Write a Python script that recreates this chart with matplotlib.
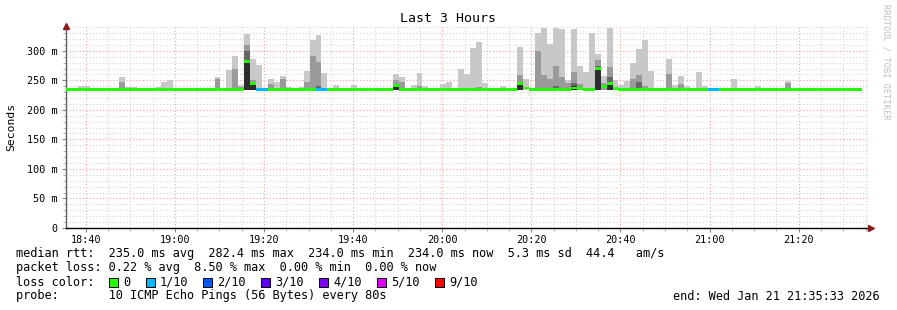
import matplotlib
matplotlib.use("Agg")
import matplotlib.pyplot as plt
from matplotlib.ticker import MultipleLocator, FixedLocator
from matplotlib.patches import Rectangle
import numpy as np

# ---------------- data ----------------
STEP = 80                 # seconds per bin
SPAN = 10800              # 3 hours
N_BINS = 134
BASE = 234.0              # ms, baseline median

# sparse smoke data: bin index -> layer tops (ms)
smoke_bins = [2, 3, 9, 10, 11, 15, 16, 17, 18, 25, 26, 27, 28, 29, 30, 31, 32, 34, 35, 36,
              37, 39, 40, 41, 42, 43, 45, 47, 48, 55, 56, 57, 58, 59, 60, 63, 64, 66, 67, 68,
              69, 70, 73, 76, 77, 79, 80, 81, 82, 83, 84, 85, 86, 87, 88, 89, 90, 91, 92, 93,
              94, 95, 96, 97, 98, 101, 102, 103, 104, 106, 107, 112, 113, 116, 121, 133]
smoke_l1 = [241, 240, 256, 239, 239, 239, 247, 250, 237, 256, 237, 268, 291, 242, 329, 286, 276, 252, 247, 258,
            239, 239, 266, 319, 327, 262, 242, 237, 242, 261, 256, 237, 242, 262, 240, 244, 247, 269, 261, 305,
            315, 246, 240, 307, 252, 330, 339, 312, 339, 337, 251, 337, 274, 264, 330, 295, 258, 339, 251, 242,
            249, 280, 303, 319, 266, 286, 242, 258, 240, 264, 240, 252, 237, 240, 249, 237]
smoke_l2 = [234, 234, 247, 234, 234, 234, 234, 234, 234, 252, 234, 234, 269, 238, 310, 250, 234, 243, 234, 252,
            237, 234, 247, 291, 281, 234, 234, 234, 234, 250, 247, 234, 234, 240, 234, 234, 234, 234, 234, 234,
            239, 234, 234, 259, 234, 300, 259, 252, 274, 255, 245, 264, 244, 234, 234, 285, 245, 273, 234, 234,
            234, 252, 259, 240, 234, 261, 234, 244, 234, 234, 234, 234, 234, 234, 246, 234]
smoke_l3 = [234, 234, 234, 234, 234, 234, 234, 234, 234, 234, 234, 234, 234, 234, 300, 247, 234, 234, 234, 234,
            234, 234, 234, 234, 240, 234, 234, 234, 234, 234, 234, 234, 234, 234, 234, 234, 234, 234, 234, 234,
            234, 234, 234, 234, 234, 234, 234, 234, 240, 234, 234, 245, 234, 234, 234, 275, 234, 255, 234, 234,
            234, 234, 247, 234, 234, 234, 234, 234, 234, 234, 234, 234, 234, 234, 234, 234]
smoke_l4 = [234, 234, 234, 234, 234, 234, 234, 234, 234, 234, 234, 234, 234, 234, 282, 244, 234, 234, 234, 234,
            234, 234, 234, 234, 234, 234, 234, 234, 234, 242, 234, 234, 234, 234, 234, 234, 234, 234, 234, 234,
            234, 234, 234, 246, 234, 234, 234, 234, 234, 234, 234, 240, 234, 234, 234, 271, 234, 246, 234, 234,
            234, 234, 234, 234, 234, 234, 234, 234, 234, 234, 234, 234, 234, 234, 234, 234]

median_bins = [30, 31, 55, 76, 77, 85, 86, 89, 90, 91, 92]
median_vals = [282.4, 244, 241, 244, 237, 237, 236, 270, 240, 244, 236]

loss_bins = [32, 33, 42, 43, 108, 109]
loss_vals = [1, 1, 1, 1, 1, 1]

loss_levels = ["0", "1/10", "2/10", "3/10", "4/10", "5/10", "9/10"]
loss_colors = ["#26ff00", "#00b8ff", "#0059ff", "#5e00ff", "#7e00ff", "#dd00ff", "#ff0000"]

x_tick_labels = ["18:40", "19:00", "19:20", "19:40", "20:00", "20:20", "20:40", "21:00", "21:20"]
first_tick_offset = 267   # seconds from 18:35:33 to 18:40:00
y_tick_values = [0, 50, 100, 150, 200, 250, 300]
y_tick_labels = ["0", "50 m", "100 m", "150 m", "200 m", "250 m", "300 m"]

legend_lines = [
    "median rtt:  235.0 ms avg  282.4 ms max  234.0 ms min  234.0 ms now  5.3 ms sd  44.4   am/s",
    "packet loss: 0.22 % avg  8.50 % max  0.00 % min  0.00 % now",
    "loss color:",
    "probe:       10 ICMP Echo Pings (56 Bytes) every 80s",
]
end_text = "end: Wed Jan 21 21:35:33 2026"

# ---------------- build full arrays ----------------
l1 = np.full(N_BINS, BASE); l2 = np.full(N_BINS, BASE)
l3 = np.full(N_BINS, BASE); l4 = np.full(N_BINS, BASE)
for i, b in enumerate(smoke_bins):
    l1[b] = smoke_l1[i]; l2[b] = smoke_l2[i]; l3[b] = smoke_l3[i]; l4[b] = smoke_l4[i]
median = np.full(N_BINS, BASE)
for b, v in zip(median_bins, median_vals):
    median[b] = v
loss = np.zeros(N_BINS, dtype=int)
for b, v in zip(loss_bins, loss_vals):
    loss[b] = v
centers = np.arange(N_BINS) * STEP + STEP / 2

# ---------------- figure ----------------
W, H = 897, 310
fig = plt.figure(figsize=(W / 100, H / 100), dpi=100)
fig.patch.set_facecolor("white")
L, R, T, B = 66, 868, 26, 228
ax = fig.add_axes([L / W, 1 - B / H, (R - L) / W, (B - T) / H])
ax.set_xlim(0, SPAN)
ax.set_ylim(0, 342)

mono = "DejaVu Sans Mono"

# grid
ax.set_axisbelow(True)
ax.yaxis.set_major_locator(FixedLocator(y_tick_values))
ax.yaxis.set_minor_locator(MultipleLocator(10))
major_x = [first_tick_offset + 1200 * k for k in range(len(x_tick_labels))]
ax.set_xticks(major_x, x_tick_labels)
ax.set_yticks(y_tick_values, y_tick_labels)
ax.xaxis.set_minor_locator(FixedLocator([first_tick_offset - 300 + 300 * k for k in range(37)
                                         if 0 < first_tick_offset - 300 + 300 * k < SPAN]))
ax.grid(which="minor", color="#d4d4d4", linestyle=(0, (1, 2)), linewidth=0.8)
ax.grid(which="major", color="#f2a0a0", linestyle=(0, (1, 2)), linewidth=0.8)

# smoke layers
for tops, col in [(l1, "#c8c8c8"), (l2, "#9a9a9a"), (l3, "#666666"), (l4, "#2c2c2c")]:
    h = tops - BASE
    ax.bar(centers, h, bottom=BASE, width=STEP, color=col, linewidth=0, zorder=2)

# median line coloured by loss
med_cols = [loss_colors[v] for v in loss]
ax.bar(centers, np.full(N_BINS, 4.6), bottom=median - 2.2, width=STEP, color=med_cols,
       linewidth=0, zorder=3)

# axes styling
for s in ["top", "right"]:
    ax.spines[s].set_visible(False)
ax.spines["left"].set_color("#606060")
ax.spines["bottom"].set_color("#000000")
ax.spines["left"].set_linewidth(1.0)
ax.spines["bottom"].set_linewidth(1.0)
ax.tick_params(axis="both", which="major", labelsize=7.3, length=3, width=0.8,
               color="#888888", pad=3)
ax.tick_params(axis="both", which="minor", length=2, width=0.6, color="#aaaaaa")
for lab in ax.get_xticklabels() + ax.get_yticklabels():
    lab.set_fontfamily(mono)
    lab.set_color("#000000")
ax.tick_params(axis="y", pad=3)
ax.tick_params(axis="x", pad=2)

# arrows
ax.plot([0], [1], marker="^", color="#8b1a1a", markersize=4, transform=ax.transAxes,
        clip_on=False, zorder=5)
ax.plot([1.0 + 3 / (R - L)], [0], marker=">", color="#8b1a1a", markersize=4,
        transform=ax.transAxes, clip_on=False, zorder=5)

# titles
fig.text(448 / W, 1 - 19 / H, "Last 3 Hours", ha="center", va="center",
         fontsize=9.5, family=mono, color="#000000")
fig.text(11 / W, 1 - 127 / H, "Seconds", ha="center", va="center", rotation=90,
         fontsize=8.2, family=mono)
fig.text(886 / W, 1 - 4 / H, "RRDTOOL / TOBI OETIKER", ha="center", va="top",
         rotation=270, fontsize=6.2, family=mono, color="#c0c0c0")

# legend block
FS = 8.6
ys = [254, 268, 282, 296]
for y, line in zip(ys, legend_lines):
    fig.text(16 / W, 1 - y / H, line, ha="left", va="center", fontsize=FS, family=mono)
sq_x = [109, 146, 203, 261, 319, 377, 435]
for x, col, lab in zip(sq_x, loss_colors, loss_levels):
    fig.patches.append(Rectangle((x / W, 1 - (282 + 4.5) / H), 8.5 / W, 8.5 / H,
                                 transform=fig.transFigure, facecolor=col,
                                 edgecolor="#000000", linewidth=0.7))
    fig.text((x + 14) / W, 1 - 282 / H, lab, ha="left", va="center", fontsize=FS, family=mono)
fig.text(880 / W, 1 - 296 / H, end_text, ha="right", va="center", fontsize=FS, family=mono)

fig.savefig("out.png", dpi=100)
